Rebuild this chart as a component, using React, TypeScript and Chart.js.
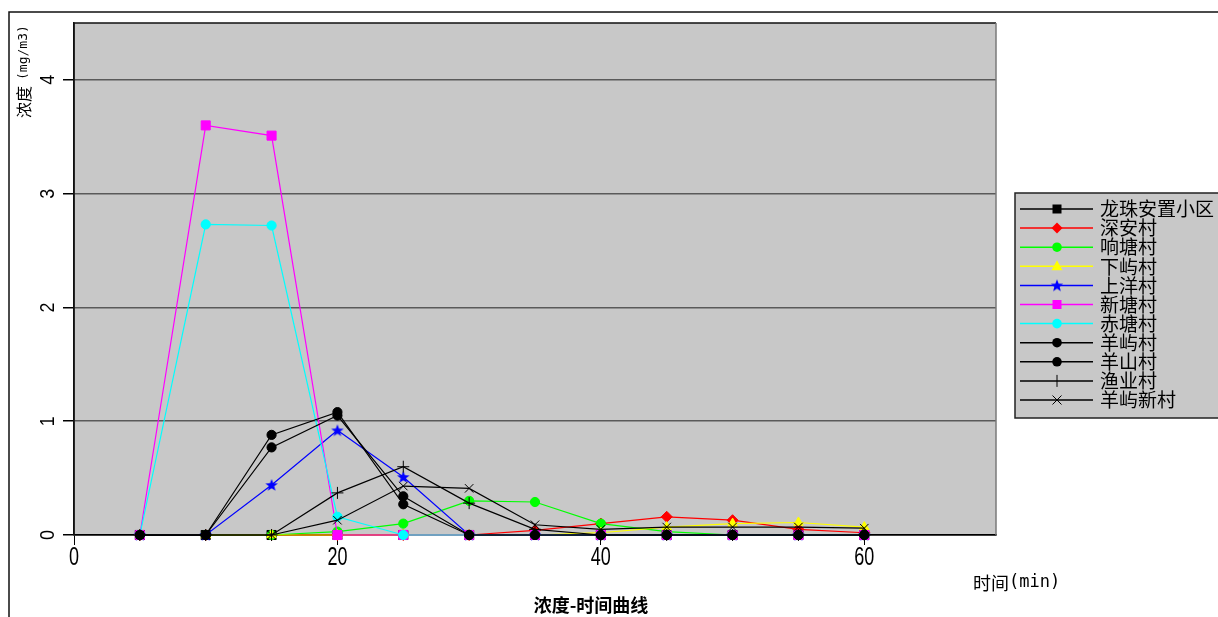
import React, { useEffect, useRef } from 'react';
import { Chart, registerables } from 'chart.js';

Chart.register(...registerables);

// ---- data ----
const times = [5, 10, 15, 20, 25, 30, 35, 40, 45, 50, 55, 60];
const seriesNames = ['龙珠安置小区', '深安村', '响塘村', '下屿村', '上洋村', '新塘村', '赤塘村', '羊屿村', '羊山村', '渔业村', '羊屿新村'];
const longzhu = [0, 0, 0, 0, 0, 0, 0, 0, 0, 0, 0, 0];
const shenan = [0, 0, 0, 0, 0, 0, 0.04, 0.1, 0.16, 0.13, 0.05, 0.02];
const xiangtang = [0, 0, 0, 0.03, 0.1, 0.3, 0.29, 0.1, 0.03, 0, 0, 0];
const xiayu = [0, 0, 0, 0, 0, 0, 0, 0.02, 0.07, 0.1, 0.11, 0.07];
const shangyang = [0, 0, 0.44, 0.92, 0.51, 0, 0, 0, 0, 0, 0, 0];
const xintang = [0, 3.6, 3.51, 0, 0, 0, 0, 0, 0, 0, 0, 0];
const chitang = [0, 2.73, 2.72, 0.16, 0, 0, 0, 0, 0, 0, 0, 0];
const yangyu = [0, 0, 0.88, 1.08, 0.27, 0, 0, 0, 0, 0, 0, 0];
const yangshan = [0, 0, 0.77, 1.05, 0.34, 0, 0, 0, 0, 0, 0, 0];
const yuye = [0, 0, 0, 0.37, 0.6, 0.28, 0.05, 0, 0, 0, 0, 0];
const yangyuxin = [0, 0, 0, 0.13, 0.43, 0.41, 0.09, 0.05, 0.07, 0.07, 0.07, 0.06];
const seriesValues = [longzhu, shenan, xiangtang, xiayu, shangyang, xintang, chitang, yangyu, yangshan, yuye, yangyuxin];
const seriesColors = ['#000000', '#ff0000', '#00ff00', '#ffff00', '#0000ff', '#ff00ff', '#00ffff', '#000000', '#000000', '#000000', '#000000'];
const seriesMarkers = ['rect', 'rectRot', 'circle', 'triangle', 'star', 'rect', 'circle', 'circle', 'circle', 'cross', 'crossRot'];
const xTicks = [0, 20, 40, 60];
const yTicks = [0, 1, 2, 3, 4];
const chartTitle = '浓度-时间曲线';
const xTitleCn = '时间';
const xTitleUnit = '(min)';
const yTitleCn = '浓度';
const yTitleUnit = '(mg/m3)';

const PLOT_BG = '#c8c8c8';

function makeStar(color: string): HTMLCanvasElement {
  const c = document.createElement('canvas');
  c.width = 14; c.height = 14;
  const g = c.getContext('2d')!;
  g.beginPath();
  for (let i = 0; i < 10; i++) {
    const r = i % 2 === 0 ? 6.5 : 2.8;
    const a = -Math.PI / 2 + (i * Math.PI) / 5;
    const px = 7 + r * Math.cos(a);
    const py = 7.5 + r * Math.sin(a);
    if (i === 0) g.moveTo(px, py); else g.lineTo(px, py);
  }
  g.closePath();
  g.fillStyle = color;
  g.fill();
  return c;
}

function markerRadius(style: string) {
  switch (style) {
    case 'rect': return 6.4;
    case 'rectRot': return 5.5;
    case 'circle': return 4.6;
    case 'triangle': return 5.5;
    case 'cross':
    case 'crossRot': return 6;
    default: return 5;
  }
}

function drawMarker(ctx: CanvasRenderingContext2D, style: string, x: number, y: number, color: string, star: HTMLCanvasElement) {
  ctx.save();
  ctx.fillStyle = color;
  ctx.strokeStyle = color;
  ctx.lineWidth = 1;
  ctx.beginPath();
  switch (style) {
    case 'rect':
      ctx.fillRect(x - 4.5, y - 4.5, 9, 9);
      break;
    case 'rectRot':
      ctx.moveTo(x, y - 5.5); ctx.lineTo(x + 5.5, y); ctx.lineTo(x, y + 5.5); ctx.lineTo(x - 5.5, y); ctx.closePath(); ctx.fill();
      break;
    case 'circle':
      ctx.arc(x, y, 4.8, 0, Math.PI * 2); ctx.fill();
      break;
    case 'triangle':
      ctx.moveTo(x, y - 6); ctx.lineTo(x + 5.5, y + 4); ctx.lineTo(x - 5.5, y + 4); ctx.closePath(); ctx.fill();
      break;
    case 'star':
      ctx.drawImage(star, x - 7, y - 7);
      break;
    case 'cross':
      ctx.moveTo(x, y - 6); ctx.lineTo(x, y + 6); ctx.stroke();
      break;
    case 'crossRot':
      ctx.moveTo(x - 4.5, y - 4.5); ctx.lineTo(x + 4.5, y + 4.5);
      ctx.moveTo(x + 4.5, y - 4.5); ctx.lineTo(x - 4.5, y + 4.5); ctx.stroke();
      break;
  }
  ctx.restore();
}

export default function App() {
  const ref = useRef<HTMLCanvasElement | null>(null);

  useEffect(() => {
    if (!ref.current) return;
    const star = makeStar('#0000ff');
    const n = seriesNames.length;

    const datasets = seriesNames.map((name, i) => ({
      label: name,
      data: times.map((t, k) => ({ x: t, y: seriesValues[i][k] })),
      borderColor: seriesColors[i],
      backgroundColor: seriesColors[i],
      borderWidth: 1.2,
      pointStyle: (seriesMarkers[i] === 'star' ? star : seriesMarkers[i]) as any,
      pointRadius: markerRadius(seriesMarkers[i]),
      pointBorderWidth: 1,
      pointBorderColor: seriesColors[i],
      pointBackgroundColor: seriesColors[i],
      tension: 0,
      clip: false as any,
      fill: false,
      order: n - i,
    }));

    const decor = {
      id: 'decor',
      beforeDraw(chart: any) {
        const { ctx, chartArea: a } = chart;
        ctx.save();
        ctx.fillStyle = '#ffffff';
        ctx.fillRect(0, 0, chart.width, chart.height);
        ctx.fillStyle = PLOT_BG;
        ctx.fillRect(a.left, a.top, a.right - a.left, a.bottom - a.top);
        ctx.restore();
      },
      afterDraw(chart: any) {
        const { ctx, chartArea: a } = chart;
        const xs = chart.scales.x;
        const ys = chart.scales.y;
        ctx.save();
        // plot border
        ctx.lineWidth = 1.5;
        ctx.strokeStyle = '#111';
        ctx.beginPath();
        ctx.moveTo(a.left, a.bottom); ctx.lineTo(a.left, a.top); ctx.lineTo(a.right, a.top);
        ctx.stroke();
        ctx.strokeStyle = '#7a7a7a';
        ctx.beginPath();
        ctx.moveTo(a.right, a.top); ctx.lineTo(a.right, a.bottom);
        ctx.stroke();
        // outer frame
        ctx.strokeStyle = '#111';
        ctx.lineWidth = 1.5;
        ctx.beginPath();
        ctx.moveTo(9, chart.height); ctx.lineTo(9, 12); ctx.lineTo(chart.width, 12);
        ctx.stroke();

        ctx.fillStyle = '#000';
        // x tick labels
        xTicks.forEach((v) => {
          const px = xs.getPixelForValue(v);
          ctx.save();
          ctx.translate(px, 558);
          ctx.scale(0.72, 1);
          ctx.font = '25px "Liberation Sans", Arial, sans-serif';
          ctx.textAlign = 'center';
          ctx.textBaseline = 'middle';
          ctx.fillText(String(v), 0, 0);
          ctx.restore();
        });
        // y tick labels (rotated)
        yTicks.forEach((v) => {
          const py = ys.getPixelForValue(v);
          ctx.save();
          ctx.translate(48, py);
          ctx.rotate(-Math.PI / 2);
          ctx.scale(0.85, 1);
          ctx.font = '21px "Liberation Sans", Arial, sans-serif';
          ctx.textAlign = 'center';
          ctx.textBaseline = 'middle';
          ctx.fillText(String(v), 0, 0);
          ctx.restore();
        });
        // y title (rotated, reads bottom to top)
        ctx.save();
        ctx.translate(24, 118);
        ctx.rotate(-Math.PI / 2);
        ctx.textAlign = 'left';
        ctx.textBaseline = 'middle';
        ctx.font = '16px "Noto Sans CJK SC", sans-serif';
        ctx.fillText(yTitleCn, 0, 0);
        const cnW = ctx.measureText(yTitleCn).width;
        ctx.font = '13px "DejaVu Sans Mono", monospace';
        ctx.fillText(yTitleUnit, cnW + 6, 0);
        ctx.restore();
        // x title
        ctx.textAlign = 'left';
        ctx.textBaseline = 'middle';
        ctx.font = '18px "Noto Sans CJK SC", sans-serif';
        ctx.fillText(xTitleCn, 973, 583);
        const xw = ctx.measureText(xTitleCn).width;
        ctx.font = '17px "DejaVu Sans Mono", monospace';
        ctx.fillText(xTitleUnit, 973 + xw, 583);
        // chart title
        ctx.font = 'bold 18px "Noto Sans CJK SC", sans-serif';
        ctx.textAlign = 'center';
        ctx.fillText(chartTitle, 591, 605);

        // legend
        const lx = 1015, ly = 193, lh = 225;
        ctx.fillStyle = PLOT_BG;
        ctx.fillRect(lx, ly, chart.width - lx + 5, lh);
        ctx.strokeStyle = '#222';
        ctx.lineWidth = 1.5;
        ctx.strokeRect(lx, ly, chart.width - lx + 5, lh);
        ctx.font = '19px "Noto Sans CJK SC", sans-serif';
        ctx.textAlign = 'left';
        ctx.textBaseline = 'middle';
        seriesNames.forEach((name, i) => {
          const y = 209 + i * 19.1;
          ctx.strokeStyle = seriesColors[i];
          ctx.lineWidth = 1.5;
          ctx.beginPath();
          ctx.moveTo(1020, y); ctx.lineTo(1093, y);
          ctx.stroke();
          drawMarker(ctx, seriesMarkers[i], 1057, y, seriesColors[i], star);
          ctx.fillStyle = '#000';
          ctx.fillText(name, 1100, y);
        });
        ctx.restore();
      },
    };

    const chart = new Chart(ref.current, {
      type: 'line',
      data: { datasets: datasets as any },
      options: {
        responsive: false,
        animation: false,
        devicePixelRatio: 1,
        parsing: false as any,
        layout: { padding: { left: 0, top: 23, right: 222, bottom: 0 } },
        plugins: {
          legend: { display: false },
          title: { display: false },
          tooltip: { enabled: false },
        },
        scales: {
          x: {
            type: 'linear',
            min: 0,
            max: 70,
            afterFit: (s: any) => { s.height = 82; },
            ticks: { display: false, stepSize: 20, includeBounds: false },
            grid: { drawOnChartArea: false, drawTicks: true, tickLength: 10, tickColor: '#000' },
            border: { display: true, color: '#000', width: 1.5 },
          },
          y: {
            type: 'linear',
            min: 0,
            max: 4.5,
            afterFit: (s: any) => { s.width = 74; },
            ticks: { display: false, stepSize: 1, includeBounds: false },
            grid: {
              color: (c: any) => (c.tick && c.tick.value === 0 ? '#000' : '#5a5a5a'),
              lineWidth: 1.5,
              drawTicks: true,
              tickLength: 11,
              tickColor: '#000',
            },
            border: { display: true, color: '#111', width: 1.5 },
          },
        },
      },
      plugins: [decor],
    });
    return () => chart.destroy();
  }, []);

  return (
    <div style={{ position: 'fixed', left: 0, top: 0, width: 1218, height: 617, background: '#fff' }}>
      <canvas ref={ref} width={1218} height={617} style={{ display: 'block', width: 1218, height: 617 }} />
    </div>
  );
}
